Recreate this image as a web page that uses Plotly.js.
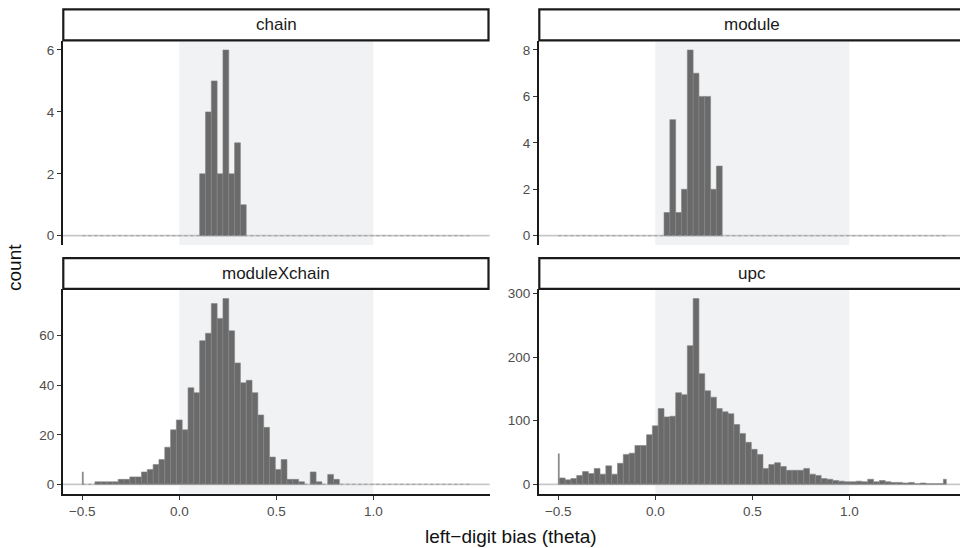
<!DOCTYPE html>
<html><head><meta charset="utf-8">
<script src="https://cdn.plot.ly/plotly-3.0.1.min.js"></script>
<style>html,body{margin:0;padding:0;background:#fff}#chart{width:960px;height:548px}</style>
</head><body><div id="chart"></div>
<script>
// ---------- data ----------
const panelNames = ["chain", "module", "moduleXchain", "upc"];
const binWidth = 0.03;          // histogram bin width (bins centred on multiples of it)
const xLimits = [-0.5, 1.5];    // scale limits (end bins squished to these)
const shadeRange = [0, 1];      // shaded band
const chainFirstBin = 4;
const chainCounts = [2, 4, 5, 2, 6, 2, 3, 1];
const moduleFirstBin = 2;
const moduleCounts = [1, 5, 1, 2, 8, 7, 6, 6, 2, 3];
const mxcFirstBin = -17;
const mxcCounts = [5, 0, 0, 1, 1, 1, 1, 2, 2, 3, 3, 5, 6, 8, 10, 15, 22, 26, 22, 39, 37, 58, 61, 73, 67, 75,
  62, 49, 41, 42, 37, 28, 23, 11, 6, 10, 2, 2, 1, 0, 5, 1, 0, 4, 2];
const upcFirstBin = -17;
const upcCounts = [48, 10, 7, 9, 14, 20, 17, 25, 16, 29, 16, 33, 47, 49, 61, 61, 78, 92, 119, 106, 107, 144,
  141, 218, 292, 174, 147, 137, 119, 114, 111, 94, 80, 66, 55, 47, 25, 31, 34, 28, 22, 22, 22, 25, 16, 14,
  9, 8, 6, 5, 4, 4, 5, 4, 8, 4, 6, 4, 3, 3, 2, 3, 1, 2, 1, 1, 1, 8];
const xTickVals = [-0.5, 0, 0.5, 1];
const xTickText = ["−0.5", "0.0", "0.5", "1.0"];
const yTickSteps = [2, 2, 20, 100];
const xAxisTitle = "left−digit bias (theta)";
const yAxisTitle = "count";

// ---------- layout geometry (pixels) ----------
const W = 960, H = 548;
const FONT = "Liberation Sans, Arial, Helvetica, sans-serif";
const colL = [62.9, 489.7], colR = [538.9, 960];
const rowT = [40.7, 245.0], rowB = [289.3, 493.6];
const stripT = [9.3, 40.3], stripB = [258.2, 288.8];
const boxes = [
  {c: colL, r: rowT, s: stripT, bottom: false},
  {c: colR, r: rowT, s: stripT, bottom: false},
  {c: colL, r: rowB, s: stripB, bottom: true},
  {c: colR, r: rowB, s: stripB, bottom: true}
];
const px = v => v / W, py = v => (H - v) / H;

function buildBins(first, counts) {
  const x = [], w = [], y = [];
  counts.forEach((n, i) => {
    const k = first + i;
    const lo = Math.max((k - 0.5) * binWidth, xLimits[0]);
    const hi = Math.min((k + 0.5) * binWidth, xLimits[1]);
    if (n > 0 && hi > lo) { x.push((lo + hi) / 2); w.push(hi - lo); y.push(n); }
  });
  return {x, w, y};
}

const series = [
  buildBins(chainFirstBin, chainCounts),
  buildBins(moduleFirstBin, moduleCounts),
  buildBins(mxcFirstBin, mxcCounts),
  buildBins(upcFirstBin, upcCounts)
];

const span = xLimits[1] - xLimits[0];
const xFull = [xLimits[0] - 0.05 * span, xLimits[1] + 0.05 * span];
const fullPx = colL[1] - colL[0];

const traces = [];
const layout = {
  width: W, height: H,
  margin: {l: 0, r: 0, t: 0, b: 0},
  paper_bgcolor: "#ffffff", plot_bgcolor: "rgba(0,0,0,0)",
  showlegend: false,
  font: {family: FONT, color: "#4d4d4d"},
  shapes: [], annotations: []
};

series.forEach((s, i) => {
  const n = i + 1, sx = n === 1 ? "" : n, b = boxes[i];
  const xa = "x" + sx, ya = "y" + sx;
  traces.push({
    type: "bar", x: s.x, y: s.y, width: s.w, xaxis: xa, yaxis: ya,
    marker: {color: "#6a6a6a", line: {color: "#858585", width: 0.6}},
    hoverinfo: "x+y"
  });
  traces.push({
    type: "scatter", mode: "lines", x: xLimits, y: [0, 0], xaxis: xa, yaxis: ya,
    line: {color: "#9c9c9c", width: 1, dash: "dot"}, hoverinfo: "skip"
  });
  const ymax = Math.max(...s.y);
  const domPx = b.c[1] - b.c[0];
  const xr = [xFull[0], xFull[0] + (xFull[1] - xFull[0]) * domPx / fullPx];
  layout["xaxis" + sx] = {
    domain: [px(b.c[0]), px(b.c[1])], range: xr, anchor: ya,
    showgrid: false, zeroline: false, fixedrange: true,
    showline: b.bottom, linecolor: "#1a1a1a", linewidth: 2,
    ticks: b.bottom ? "outside" : "", ticklen: 4, tickwidth: 1, tickcolor: "#333333",
    tickvals: xTickVals, ticktext: xTickText, showticklabels: b.bottom,
    tickfont: {family: FONT, size: 13.5, color: "#4d4d4d"}
  };
  layout["yaxis" + sx] = {
    domain: [py(b.r[1]), py(b.r[0])], range: [-0.05 * ymax, 1.05 * ymax], anchor: xa,
    showgrid: false, zeroline: false, fixedrange: true,
    showline: true, linecolor: "#1a1a1a", linewidth: 2,
    ticks: "outside", ticklen: 4, tickwidth: 1, tickcolor: "#333333",
    dtick: yTickSteps[i], tick0: 0,
    tickfont: {family: FONT, size: 13.5, color: "#4d4d4d"}
  };
  layout.shapes.push({
    type: "rect", xref: xa, yref: ya + " domain", x0: shadeRange[0], x1: shadeRange[1], y0: 0, y1: 1,
    fillcolor: "#f1f2f4", line: {width: 0}, layer: "below"
  });
  layout.shapes.push({
    type: "line", xref: xa + " domain", yref: ya, x0: 0, x1: 1, y0: 0, y1: 0,
    line: {color: "#c8c8c8", width: 1.8}, layer: "below"
  });
  layout.shapes.push({
    type: "rect", xref: "paper", yref: "paper",
    x0: px(b.c[0] + 0.4), x1: b.c[1] >= W ? 1.02 : px(b.c[1] - 1.2), y0: py(b.s[1]), y1: py(b.s[0]),
    fillcolor: "#ffffff", line: {color: "#1a1a1a", width: 2.2}
  });
  layout.annotations.push({
    xref: "paper", yref: "paper", x: px(b.c[0] + fullPx / 2),
    y: py((b.s[0] + b.s[1]) / 2), text: panelNames[i], showarrow: false,
    xanchor: "center", yanchor: "middle", font: {family: FONT, size: 17, color: "#1a1a1a"}
  });
});

layout.annotations.push({
  xref: "paper", yref: "paper", x: px(511), y: py(536), text: xAxisTitle, showarrow: false,
  xanchor: "center", yanchor: "middle", font: {family: FONT, size: 19, color: "#111111"}
});
layout.annotations.push({
  xref: "paper", yref: "paper", x: px(14), y: py(268), text: yAxisTitle, showarrow: false,
  textangle: -90, xanchor: "center", yanchor: "middle", font: {family: FONT, size: 19, color: "#111111"}
});

Plotly.newPlot("chart", traces, layout, {displayModeBar: false, staticPlot: true});
</script>
</body></html>
